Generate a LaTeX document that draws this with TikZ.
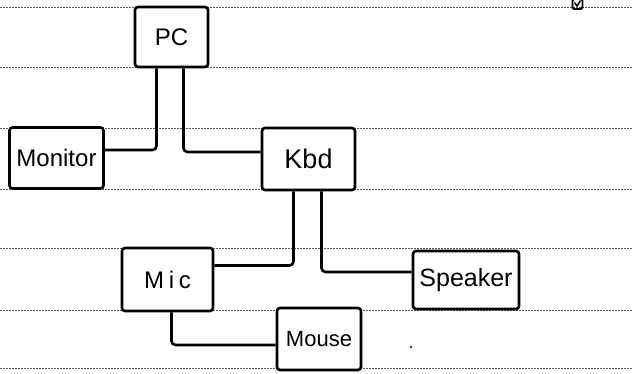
\documentclass[tikz,border=0pt]{standalone}
\usepackage{fontspec}
\setmainfont{Liberation Sans}
\begin{document}
\begin{tikzpicture}[x=1pt,y=-1pt,
  ruling/.style={gray!70!black,line width=0.9pt,dash pattern=on 1.6pt off 1.4pt},
  devbox/.style={draw=black,line width=2.6pt,rounded corners=3pt,fill=white,inner sep=0pt,font=\fontsize{24}{28}\selectfont},
  wire/.style={draw=black,line width=2.6pt,rounded corners=4pt}]
\useasboundingbox (0,0) rectangle (633,373);
\foreach \yy in {7,67,128,189,248,310,368}
  \draw[ruling] (0,\yy) -- (633,\yy);
% nodes
\node[devbox,minimum width=73pt,minimum height=60pt] (PC) at (171.5,37) {PC};
\node[devbox,minimum width=94pt,minimum height=61pt] (Monitor) at (56.5,158) {Monitor};
\node[devbox,minimum width=93pt,minimum height=62pt,font=\fontsize{27}{30}\selectfont] (Kbd) at (308.5,159) {Kbd};
\node[devbox,minimum width=91pt,minimum height=63pt,font=\fontsize{24}{28}\selectfont\addfontfeatures{LetterSpace=20}] (Mic) at (167.5,279.5) {Mic};
\node[devbox,minimum width=106pt,minimum height=58pt,font=\fontsize{25}{28}\selectfont] (Speaker) at (466,280) {Speaker};
\node[devbox,minimum width=84pt,minimum height=62pt,font=\fontsize{22}{26}\selectfont] (Mouse) at (319,339) {Mouse};
% connectors
\draw[wire] ([xshift=-15pt]PC.south) |- ([yshift=8pt]Monitor.east);
\draw[wire] ([xshift=12pt]PC.south) |- ([yshift=7pt]Kbd.west);
\draw[wire] ([xshift=-15pt]Kbd.south) |- ([yshift=14pt]Mic.east);
\draw[wire] ([xshift=13pt]Kbd.south) |- ([yshift=8pt]Speaker.west);
\draw[wire] ([xshift=4pt]Mic.south) |- ([yshift=-6pt]Mouse.west);
% small check mark icon at the top right
\draw[black,line width=1.8pt,rounded corners=1.5pt] (572.5,-1) rectangle (582.5,9);
\draw[black,line width=1.5pt] (574.5,2.5) -- (577,6) -- (580.5,0.5);
% stray dot
\fill[black] (411,347) circle (1.2pt);
\end{tikzpicture}
\end{document}
